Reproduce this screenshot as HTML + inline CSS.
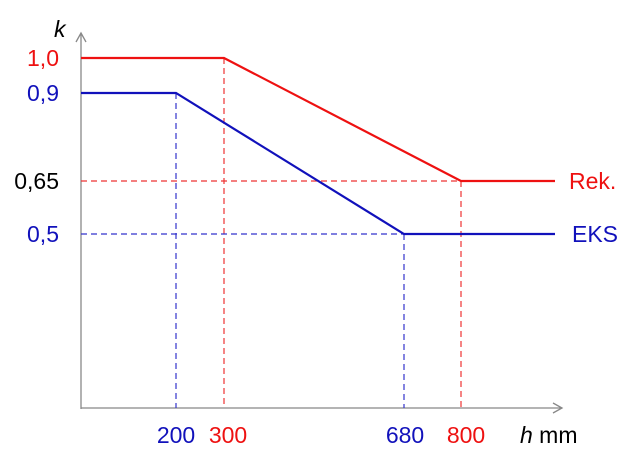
<!DOCTYPE html>
<html><head><meta charset="utf-8"><style>
html,body{margin:0;padding:0;background:#fff;}
svg{display:block;font-family:"Liberation Sans",sans-serif;}
</style></head><body>
<svg width="633" height="473" viewBox="0 0 633 473" xmlns="http://www.w3.org/2000/svg">
<g stroke="#888" stroke-width="1.3" fill="none">
<line x1="81" y1="409" x2="81" y2="34"/>
<polyline points="76,42 81,33 86,42"/>
<line x1="81" y1="408" x2="562" y2="408"/>
<polyline points="553,403 562,408 553,413"/>
</g>
<g stroke-dasharray="6,4" stroke-width="1.2" fill="none">
<line x1="224" y1="58" x2="224" y2="408" stroke="#e33"/>
<line x1="461" y1="181" x2="461" y2="408" stroke="#e33"/>
<line x1="81" y1="181" x2="461" y2="181" stroke="#e33"/>
<line x1="176" y1="93" x2="176" y2="408" stroke="#33c"/>
<line x1="404" y1="234" x2="404" y2="408" stroke="#33c"/>
<line x1="81" y1="234" x2="404" y2="234" stroke="#33c"/>
</g>
<polyline points="81,58 224,58 461,181 555,181" stroke="#e11" stroke-width="2.2" fill="none"/>
<polyline points="81,93 176,93 404,234 555,234" stroke="#11b" stroke-width="2.2" fill="none"/>
<g font-size="23">
<text x="59" y="66" text-anchor="end" fill="#e11">1,0</text>
<text x="59" y="101" text-anchor="end" fill="#11b">0,9</text>
<text x="59" y="189" text-anchor="end" fill="#000">0,65</text>
<text x="59" y="242" text-anchor="end" fill="#11b">0,5</text>
<text x="176" y="443" text-anchor="middle" fill="#11b">200</text>
<text x="228" y="443" text-anchor="middle" fill="#e11">300</text>
<text x="405" y="443" text-anchor="middle" fill="#11b">680</text>
<text x="466" y="443" text-anchor="middle" fill="#e11">800</text>
<text x="520" y="443" fill="#000"><tspan font-style="italic">h</tspan> mm</text>
<text x="54" y="37" font-style="italic" fill="#000">k</text>
<text x="569" y="189" fill="#e11">Rek.</text>
<text x="572" y="242" fill="#11b">EKS</text>
</g>
</svg>
</body></html>
